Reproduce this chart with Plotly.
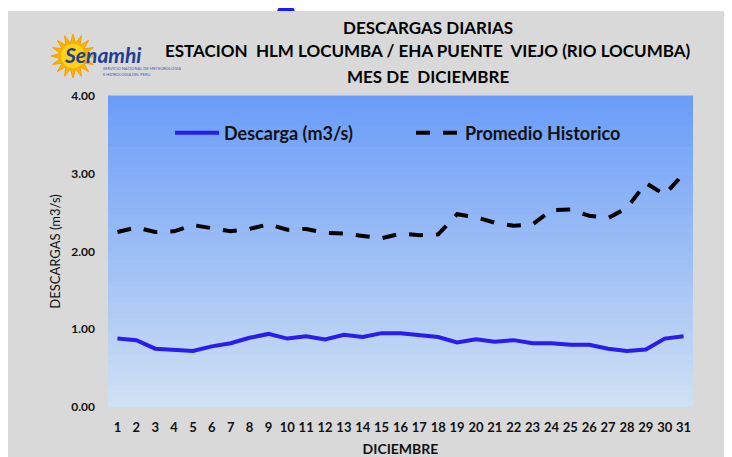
import math
import plotly.graph_objects as go

# ---- data ----
dias = list(range(1, 32))
dia_labels = [str(d) for d in dias]
descarga = [0.88, 0.86, 0.75, 0.74, 0.72, 0.78, 0.82, 0.89, 0.94, 0.88,
            0.91, 0.87, 0.93, 0.90, 0.95, 0.95, 0.93, 0.90, 0.83, 0.87,
            0.84, 0.86, 0.82, 0.82, 0.80, 0.80, 0.75, 0.72, 0.74, 0.88, 0.91]
promedio = [2.25, 2.31, 2.25, 2.26, 2.34, 2.30, 2.26, 2.29, 2.35, 2.28,
            2.29, 2.24, 2.23, 2.20, 2.17, 2.23, 2.21, 2.22, 2.48, 2.44,
            2.37, 2.33, 2.35, 2.53, 2.54, 2.46, 2.43, 2.56, 2.88, 2.73, 3.00]
y_ticks = [0, 1, 2, 3, 4]
y_tick_labels = ["0.00", "1.00", "2.00", "3.00", "4.00"]

# page offset (body margin) of the figure
OFF = 8
W, H = 732 - OFF, 457 - OFF
L, R, T, B = 100, 39, 88, 50
PW, PH = W - L - R, H - T - B

def px(x):  # page x -> paper
    return (x - OFF - L) / PW

def py(y):  # page y -> paper
    return (H - B - (y - OFF)) / PH

FONT = "Lato"

fig = go.Figure()
fig.add_trace(go.Scatter(
    x=dias, y=descarga, mode="lines", name="Descarga (m3/s)",
    line=dict(color="#2a1cef", width=4)))
fig.add_trace(go.Scatter(
    x=dias, y=promedio, mode="lines", name="Promedio Historico",
    line=dict(color="#000000", width=4, dash="14px,13px")))

shapes = []
# gray panel
shapes.append(dict(type="rect", xref="paper", yref="paper",
                   x0=px(8), x1=px(727), y0=py(460), y1=py(11),
                   fillcolor="#d9d9d9", line=dict(width=0), layer="below"))
# gradient plot background
top = (106, 156, 248)
bot = (206, 224, 243)
N = 60
for i in range(N):
    t = i / (N - 1)
    c = tuple(round(top[k] + (bot[k] - top[k]) * t) for k in range(3))
    shapes.append(dict(type="rect", xref="paper", yref="paper",
                       x0=0, x1=1, y0=1 - (i + 1) / N, y1=1 - i / N + 0.002,
                       fillcolor="rgb(%d,%d,%d)" % c, line=dict(width=0),
                       layer="below"))
# blue triangle at top (cut off)
shapes.append(dict(type="path", xref="paper", yref="paper",
                   path="M %f,%f L %f,%f L %f,%f Z" % (px(277), py(11), px(295), py(11), px(286), py(-6)),
                   fillcolor="#1a1aff", line=dict(width=0), layer="below"))
# sun logo
cx, cy, r1, r2 = 73, 56, 22, 13
pts = []
for k in range(32):
    a = math.pi * 2 * k / 32
    r = r1 if k % 2 == 0 else r2
    pts.append((px(cx + r * math.cos(a)), py(cy + r * math.sin(a))))
path = "M " + " L ".join("%f,%f" % p for p in pts) + " Z"
shapes.append(dict(type="path", xref="paper", yref="paper", path=path,
                   fillcolor="#f7b500", line=dict(color="#f5a000", width=1), layer="below"))
shapes.append(dict(type="circle", xref="paper", yref="paper",
                   x0=px(cx - 12), x1=px(cx + 12), y0=py(cy + 12), y1=py(cy - 12),
                   fillcolor="#ffd21a", line=dict(width=0), layer="below"))

annotations = []
def ann(text, x, y, size, color="#000", bold=True, xanchor="center", italic=False, family=FONT):
    t = "<b>%s</b>" % text if bold else text
    if italic:
        t = "<i>%s</i>" % t
    annotations.append(dict(text=t, x=px(x), y=py(y), xref="paper", yref="paper",
                            xanchor=xanchor, yanchor="middle", showarrow=False,
                            font=dict(family=family, size=size, color=color)))

ann("DESCARGAS DIARIAS", 428, 28, 17)
ann("ESTACION&nbsp; HLM LOCUMBA / EHA PUENTE&nbsp; VIEJO (RIO LOCUMBA)", 428, 51, 17)
ann("MES DE&nbsp; DICIEMBRE", 428, 76, 17)
ann("Senamhi", 62, 54, 21, color="#1d3f94", xanchor="left", italic=True)
ann("SERVICIO NACIONAL DE METEOROLOGIA", 101, 69, 4, color="#3b5fb0", bold=False, xanchor="left")
ann("E HIDROLOGIA DEL PERU", 101, 74, 4, color="#3b5fb0", bold=False, xanchor="left")

fig.update_layout(
    width=W, height=H,
    margin=dict(l=L, r=R, t=T, b=B, pad=0),
    paper_bgcolor="#ffffff", plot_bgcolor="rgba(0,0,0,0)",
    shapes=shapes, annotations=annotations,
    showlegend=True,
    legend=dict(orientation="h", x=px(170), y=py(133), xanchor="left", yanchor="middle",
                bgcolor="rgba(0,0,0,0)",
                font=dict(family=FONT, size=18, color="#111", weight="bold"),
                entrywidth=182, entrywidthmode="pixels", itemwidth=44),
    xaxis=dict(range=[0.5, 31.5], tickmode="array", tickvals=dias, ticktext=dia_labels,
               showgrid=False, zeroline=False, showline=False, ticks="",
               automargin=False, ticklabelstandoff=11,
               tickfont=dict(family=FONT, size=13, color="#111", weight="bold"),
               title=dict(text="DICIEMBRE", standoff=12,
                          font=dict(family=FONT, size=14, color="#111", weight="bold"))),
    yaxis=dict(range=[0, 4], tickmode="array", tickvals=y_ticks, ticktext=y_tick_labels,
               showgrid=False, zeroline=False, showline=False, ticks="",
               automargin=False, ticklabelstandoff=12,
               tickfont=dict(family=FONT, size=12, color="#111", weight="bold"),
               title=dict(text="DESCARGAS (m3/s)", standoff=7,
                          font=dict(family=FONT, size=13, color="#111"))),
)

fig.write_html("out.html")
